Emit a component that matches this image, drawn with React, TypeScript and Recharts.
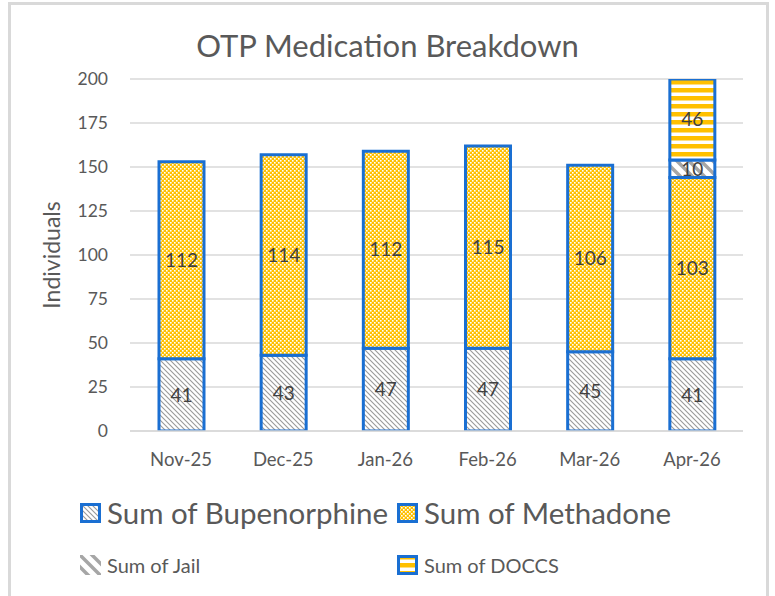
import React from "react";
import { BarChart, Bar, XAxis, YAxis, CartesianGrid, LabelList } from "recharts";

// ── Data ──
const months = ["Nov-25", "Dec-25", "Jan-26", "Feb-26", "Mar-26", "Apr-26"];
const bupenorphine = [41, 43, 47, 47, 45, 41];
const methadone = [112, 114, 112, 115, 106, 103];
const jail = [null, null, null, null, null, 10];
const doccs = [null, null, null, null, null, 46];
const yTicks = [0, 25, 50, 75, 100, 125, 150, 175, 200];

const data = months.map((m, i) => ({
  month: m,
  bupe: bupenorphine[i],
  meth: methadone[i],
  jail: jail[i],
  doccs: doccs[i],
}));

const BLUE = "#1a6fd2";
const TEXT = "#595959";
const FONT = "Lato, 'Open Sans', sans-serif";

const fmt = (v: any) => (v == null || v === 0 ? "" : v);

function Patterns() {
  return (
    <defs>
      <pattern id="pBupe" patternUnits="userSpaceOnUse" width="5" height="5">
        <rect width="5" height="5" fill="#fff" />
        <path d="M0,0 L5,5 M-1,4 L1,6 M4,-1 L6,1" stroke="#9a9a9a" strokeWidth="1.1" />
      </pattern>
      <pattern id="pMeth" patternUnits="userSpaceOnUse" width="4" height="4">
        <rect width="4" height="4" fill="#ffc000" />
        <rect x="0" y="0" width="1.6" height="1.6" fill="#fff" />
        <rect x="2" y="2" width="1.6" height="1.6" fill="#fff" />
      </pattern>
      <pattern id="pJail" patternUnits="userSpaceOnUse" width="12" height="12">
        <rect width="12" height="12" fill="#fff" />
        <path d="M0,0 L12,12 M-3,9 L3,15 M9,-3 L15,3" stroke="#a6a6a6" strokeWidth="3.5" />
      </pattern>
      <pattern id="pDoccs" patternUnits="userSpaceOnUse" width="8" height="8">
        <rect width="8" height="8" fill="#fff" />
        <rect y="0" width="8" height="4.5" fill="#ffc000" />
      </pattern>
    </defs>
  );
}

function Icon({ fill, border }: { fill: string; border: boolean }) {
  return (
    <svg width="21" height="20" style={{ display: "block", flex: "none" }}>
      <rect
        x={border ? 1.5 : 0}
        y={border ? 1.5 : 0}
        width={border ? 18 : 21}
        height={border ? 17 : 20}
        fill={fill}
        stroke={border ? BLUE : "none"}
        strokeWidth={border ? 3 : 0}
      />
    </svg>
  );
}

function LegendItem({ x, cy, label, fill, border, size }: { x: number; cy: number; label: string; fill: string; border: boolean; size: number }) {
  return (
    <div
      style={{
        position: "absolute",
        left: x,
        top: cy - 12,
        height: 24,
        display: "flex",
        alignItems: "center",
        gap: 6,
        fontFamily: FONT,
        fontSize: size,
        color: TEXT,
        lineHeight: 1,
        whiteSpace: "nowrap",
      }}
    >
      <Icon fill={fill} border={border} />
      <span>{label}</span>
    </div>
  );
}

export default function App() {
  return (
    <div
      style={{
        position: "absolute",
        left: 0,
        top: 0,
        width: 775,
        height: 596,
        background: "#fff",
        overflow: "hidden",
      }}
    >
      {/* shared pattern definitions for legend icons */}
      <svg width="0" height="0" style={{ position: "absolute" }}>
        <Patterns />
      </svg>
      {/* chart frame */}
      <div
        style={{
          position: "absolute",
          left: 8,
          top: 2,
          width: 761,
          height: 620,
          border: "3px solid #d9d9d9",
          boxSizing: "border-box",
        }}
      />
      <div
        style={{
          position: "absolute",
          left: 0,
          right: 0,
          top: 30,
          textAlign: "center",
          fontFamily: FONT,
          fontSize: 31,
          color: TEXT,
          lineHeight: 1,
        }}
      >
        OTP Medication Breakdown
      </div>
      <div style={{ position: "absolute", left: 0, top: 0 }}>
        <BarChart
          width={775}
          height={596}
          data={data}
          margin={{ top: 79, right: 32, left: 0, bottom: 0 }}
          barSize={45}
        >
          <CartesianGrid horizontal vertical={false} stroke="#d9d9d9" strokeWidth={1.5} />
          <XAxis
            dataKey="month"
            height={165}
            tickLine={false}
            axisLine={{ stroke: "#d9d9d9", strokeWidth: 1.5 }}
            tickMargin={16}
            tick={{ fontSize: 18.5, fill: TEXT, fontFamily: FONT }}
          />
          <YAxis
            width={130}
            domain={[0, 200]}
            ticks={yTicks}
            allowDataOverflow
            tickLine={false}
            axisLine={false}
            tickMargin={16}
            tick={{ fontSize: 17.5, fill: TEXT, fontFamily: FONT }}
            label={{
              value: "Individuals",
              angle: -90,
              position: "insideLeft",
              offset: 52,
              style: { fontSize: 23, fill: TEXT, fontFamily: FONT, textAnchor: "middle" },
            }}
          />
          <Bar dataKey="bupe" stackId="a" fill="url(#pBupe)" stroke={BLUE} strokeWidth={3} isAnimationActive={false}>
            <LabelList dataKey="bupe" position="center" formatter={fmt} style={{ fontSize: 19, fill: "#404040", fontFamily: FONT }} />
          </Bar>
          <Bar dataKey="meth" stackId="a" fill="url(#pMeth)" stroke={BLUE} strokeWidth={3} isAnimationActive={false}>
            <LabelList dataKey="meth" position="center" formatter={fmt} style={{ fontSize: 19, fill: "#404040", fontFamily: FONT }} />
          </Bar>
          <Bar dataKey="jail" stackId="a" fill="url(#pJail)" stroke={BLUE} strokeWidth={3} isAnimationActive={false}>
            <LabelList dataKey="jail" position="center" formatter={fmt} style={{ fontSize: 19, fill: "#404040", fontFamily: FONT }} />
          </Bar>
          <Bar dataKey="doccs" stackId="a" fill="url(#pDoccs)" stroke={BLUE} strokeWidth={3} isAnimationActive={false}>
            <LabelList dataKey="doccs" position="center" formatter={fmt} style={{ fontSize: 19, fill: "#404040", fontFamily: FONT }} />
          </Bar>
        </BarChart>
      </div>
      <LegendItem x={80} cy={513} label="Sum of Bupenorphine" fill="url(#pBupe)" border size={29.5} />
      <LegendItem x={397} cy={513} label="Sum of Methadone" fill="url(#pMeth)" border size={29.5} />
      <LegendItem x={80} cy={565} label="Sum of Jail" fill="url(#pJail)" border={false} size={20} />
      <LegendItem x={397} cy={565} label="Sum of DOCCS" fill="url(#pDoccs)" border size={20} />
    </div>
  );
}
